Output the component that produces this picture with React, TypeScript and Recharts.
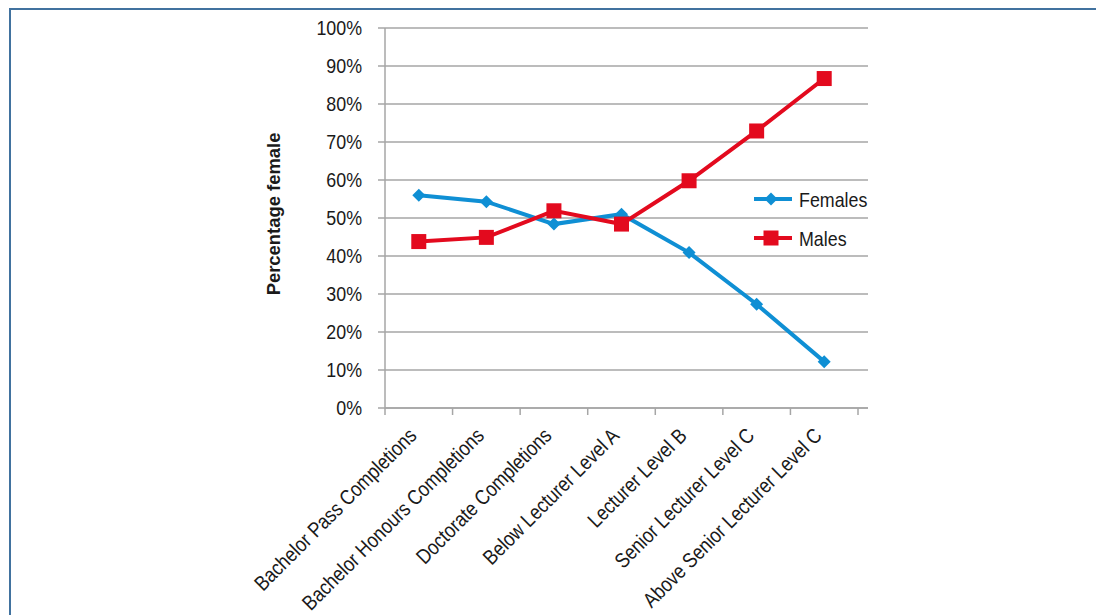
import { LineChart, Line, XAxis, YAxis, CartesianGrid } from 'recharts'

const categories = [
  'Bachelor Pass Completions',
  'Bachelor Honours Completions',
  'Doctorate Completions',
  'Below Lecturer Level A',
  'Lecturer Level B',
  'Senior Lecturer Level C',
  'Above Senior Lecturer Level C',
]
const females = [56, 54.3, 48.4, 51, 40.9, 27.3, 12.2]
const males = [43.8, 44.9, 51.9, 48.4, 59.8, 72.9, 86.7]
const yTicks = [0, 10, 20, 30, 40, 50, 60, 70, 80, 90, 100]

const FEMALE = '#0f8fd4'
const MALE = '#e30a1e'
const GRID = '#a6a6a6'
const INK = '#1a1a1a'
// no narrow font installed, so Liberation Sans squeezed sideways
const FONT = '"Liberation Sans", Arial, sans-serif'
const SQUEEZE = 0.85

const data = categories.map((name, i) => ({
  name,
  x: i + 0.5,
  females: females[i],
  males: males[i],
}))

// ticks at category borders (lines) and centres (labels)
const xTicks = categories.flatMap((_, i) => [i, i + 0.5]).concat(categories.length)

function XTick(props: any) {
  const { x, y, payload } = props
  const v = payload.value as number
  if (Number.isInteger(v)) {
    return <line x1={x} y1={y} x2={x} y2={y + 7} stroke={GRID} strokeWidth={1.5} />
  }
  const ax = x - 1
  const ay = y + 29
  return (
    <text
      transform={`translate(${ax}, ${ay}) rotate(-45) scale(${SQUEEZE}, 1)`}
      textAnchor="end"
      fontSize={21}
      fontFamily={FONT}
      fill={INK}
    >
      {categories[Math.floor(v)]}
    </text>
  )
}

function YTick(props: any) {
  const { x, y, payload } = props
  return (
    <text
      transform={`translate(${x}, ${y}) scale(${SQUEEZE}, 1)`}
      textAnchor="end"
      dy="0.355em"
      fontSize={21}
      fontFamily={FONT}
      fill={INK}
    >
      {`${payload.value}%`}
    </text>
  )
}

function Diamond(props: any) {
  const { cx, cy } = props
  const r = 6.5
  return (
    <polygon
      points={`${cx},${cy - r} ${cx + r},${cy} ${cx},${cy + r} ${cx - r},${cy}`}
      fill={FEMALE}
    />
  )
}

function Square(props: any) {
  const { cx, cy } = props
  return <rect x={cx - 7.5} y={cy - 7.5} width={15} height={15} fill={MALE} />
}

function YLabel(props: any) {
  const { viewBox } = props
  const cx = viewBox.x + viewBox.width - 112
  const cy = viewBox.y + viewBox.height / 2 - 4
  return (
    <text
      transform={`translate(${cx}, ${cy}) rotate(-90) scale(0.97, 1)`}
      textAnchor="middle"
      dominantBaseline="central"
      fontSize={19}
      fontWeight="bold"
      fontFamily={FONT}
      fill={INK}
    >
      Percentage female
    </text>
  )
}

function LegendOverlay() {
  const items = [
    { label: 'Females', color: FEMALE, shape: 'diamond' },
    { label: 'Males', color: MALE, shape: 'square' },
  ]
  return (
    <svg
      width={140}
      height={80}
      style={{ position: 'absolute', left: 738, top: 172, overflow: 'visible' }}
    >
      {items.map((it, i) => {
        const y = 19 + i * 39
        return (
          <g key={it.label}>
            <line x1={8} x2={46} y1={y} y2={y} stroke={it.color} strokeWidth={4} />
            {it.shape === 'diamond' ? (
              <Diamond cx={25} cy={y} />
            ) : (
              <Square cx={25} cy={y} />
            )}
            <text
              transform={`translate(53, ${y}) scale(${SQUEEZE}, 1)`}
              dominantBaseline="central"
              fontSize={21}
              fontFamily={FONT}
              fill={INK}
            >
              {it.label}
            </text>
          </g>
        )
      })}
    </svg>
  )
}

export default function App() {
  return (
    <div style={{ position: 'relative', width: 1096, height: 607, overflow: 'hidden' }}>
      <div
        style={{
          position: 'absolute',
          left: 1,
          top: 0,
          right: -10,
          bottom: -10,
          borderTop: '2px solid #41729f',
          borderLeft: '2px solid #41729f',
        }}
      />
      <LineChart
        width={1096}
        height={607}
        data={data}
        margin={{ top: 20, right: 236, bottom: 7, left: 0 }}
      >
        <CartesianGrid horizontal vertical={false} stroke={GRID} strokeWidth={1.5} />
        <XAxis
          dataKey="x"
          type="number"
          domain={[0, categories.length]}
          ticks={xTicks}
          interval={0}
          padding={{ left: 0, right: 10 }}
          height={200}
          tickSize={0}
          tickMargin={0}
          tickLine={false}
          tick={<XTick />}
          axisLine={{ stroke: GRID, strokeWidth: 1.5 }}
        />
        <YAxis
          type="number"
          domain={[0, 100]}
          ticks={yTicks}
          interval={0}
          width={377}
          tickSize={7}
          tickMargin={16}
          tick={<YTick />}
          tickLine={{ stroke: GRID, strokeWidth: 1.5 }}
          axisLine={{ stroke: GRID, strokeWidth: 1.5 }}
          label={<YLabel />}
        />
        <Line
          dataKey="females"
          stroke={FEMALE}
          strokeWidth={4}
          dot={<Diamond />}
          activeDot={false}
          isAnimationActive={false}
        />
        <Line
          dataKey="males"
          stroke={MALE}
          strokeWidth={4}
          dot={<Square />}
          activeDot={false}
          isAnimationActive={false}
        />
      </LineChart>
      <LegendOverlay />
    </div>
  )
}
